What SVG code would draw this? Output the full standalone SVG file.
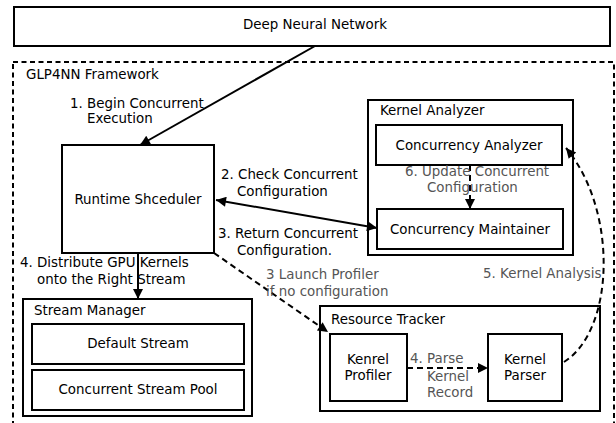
<svg xmlns="http://www.w3.org/2000/svg" width="616" height="423" viewBox="0 0 616 423">
<style>
  text { font-family: "DejaVu Sans", "Liberation Sans", sans-serif; font-size: 13.4px; fill: #000; }
  .c { text-anchor: middle; }
  .g { fill: #555; }
  .box { fill: #fff; stroke: #000; stroke-width: 2; }
  .frame { fill: none; stroke: #000; stroke-width: 2; stroke-dasharray: 5 3.5; }
  .ln { fill: none; stroke: #000; stroke-width: 2; }
  .dl { fill: none; stroke: #000; stroke-width: 2; stroke-dasharray: 6 4; }
</style>
<defs>
  <marker id="ah" viewBox="0 0 10 10" refX="10" refY="5" markerWidth="12" markerHeight="10" markerUnits="userSpaceOnUse" orient="auto-start-reverse">
    <path d="M0,0 L10,5 L0,10 z" fill="#000"/>
  </marker>
</defs>
<rect width="616" height="423" fill="#fff"/>

<g id="dnn">
  <rect class="box" x="14" y="7" width="596" height="39"/>
  <text class="c" x="315" y="29">Deep Neural Network</text>
</g>

<g id="framework">
  <rect class="frame" x="13" y="62" width="601" height="380"/>
  <text x="26" y="79">GLP4NN Framework</text>
</g>

<g id="runtime-scheduler">
  <rect class="box" x="62" y="145" width="152" height="108"/>
  <text class="c" x="138" y="204">Runtime Shceduler</text>
</g>

<g id="kernel-analyzer">
  <rect class="box" x="368" y="100" width="205" height="155"/>
  <text x="380" y="115">Kernel Analyzer</text>
</g>
<g id="concurrency-analyzer">
  <rect class="box" x="376" y="125" width="186" height="40"/>
  <text class="c" x="469" y="150">Concurrency Analyzer</text>
</g>
<g id="concurrency-maintainer">
  <rect class="box" x="377" y="209" width="186" height="40"/>
  <text class="c" x="470" y="234">Concurrency Maintainer</text>
</g>

<g id="stream-manager">
  <rect class="box" x="23" y="299" width="229" height="117"/>
  <text x="34" y="315">Stream Manager</text>
</g>
<g id="default-stream">
  <rect class="box" x="32" y="324" width="212" height="40"/>
  <text class="c" x="138" y="348">Default Stream</text>
</g>
<g id="concurrent-stream-pool">
  <rect class="box" x="32" y="370" width="212" height="40"/>
  <text class="c" x="138" y="394">Concurrent Stream Pool</text>
</g>

<g id="resource-tracker">
  <rect class="box" x="320" y="306" width="280" height="105"/>
  <text x="331" y="324">Resource Tracker</text>
</g>
<g id="kernel-profiler">
  <rect class="box" x="330" y="334" width="77" height="67"/>
  <text class="c" x="368" y="364">Kenrel</text>
  <text class="c" x="368" y="380">Profiler</text>
</g>
<g id="kernel-parser">
  <rect class="box" x="488" y="334" width="74" height="67"/>
  <text class="c" x="525" y="364">Kernel</text>
  <text class="c" x="525" y="380">Parser</text>
</g>

<g id="connectors">
  <line class="ln" x1="315" y1="46" x2="140" y2="145" marker-end="url(#ah)"/>
  <line class="ln" x1="216" y1="200" x2="377" y2="228" marker-start="url(#ah)" marker-end="url(#ah)"/>
  <line class="ln" x1="138" y1="253" x2="138" y2="299" marker-end="url(#ah)"/>
  <line class="dl" x1="214" y1="253" x2="328" y2="332" marker-end="url(#ah)"/>
  <line class="dl" x1="470" y1="165" x2="470" y2="209" marker-end="url(#ah)"/>
  <line class="dl" x1="407" y1="368" x2="488" y2="368" marker-end="url(#ah)"/>
  <path class="dl" d="M564,362 C615,330 618,210 566,148" marker-end="url(#ah)"/>
</g>

<g id="labels">
  <text x="70" y="108">1. Begin Concurrent</text>
  <text x="87" y="123">Execution</text>
  <text x="221" y="179">2. Check Concurrent</text>
  <text x="237" y="196">Configuration</text>
  <text x="218" y="238">3. Return Concurrent</text>
  <text x="237" y="255">Configuration.</text>
  <text x="20" y="267">4. Distribute GPU Kernels</text>
  <text x="37" y="284">onto the Right Stream</text>
  <text class="g" x="266" y="279">3 Launch Profiler</text>
  <text class="g" x="266" y="296">if no configuration</text>
  <text class="g" x="405" y="176">6. Update Concurrent</text>
  <text class="g" x="427" y="192">Configuration</text>
  <text class="g" x="483" y="278">5. Kernel Analysis</text>
  <text class="g" x="410" y="363">4. Parse</text>
  <text class="g" x="427" y="381">Kernel</text>
  <text class="g" x="427" y="397">Record</text>
</g>
</svg>
